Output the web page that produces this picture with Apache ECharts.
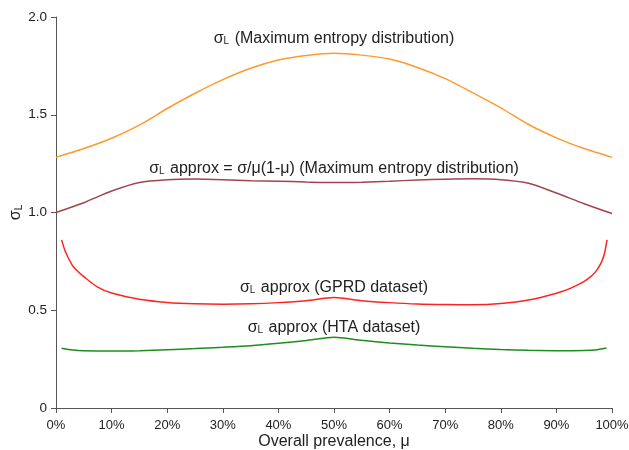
<!DOCTYPE html>
<html>
<head>
<meta charset="utf-8">
<script src="https://cdn.jsdelivr.net/npm/echarts@6/dist/echarts.min.js"></script>
<style>
  html, body { margin: 0; padding: 0; background: #fff; }
  #chart { width: 629px; height: 450px; }
</style>
</head>
<body>
<div id="chart"></div>
<script>
// prevalence (%) -> sigma_L
const maxEntX = [0, 5, 10, 15, 20, 25, 30, 35, 40, 45, 50, 55, 60, 65, 70, 75, 80, 85, 90, 95, 100]
const maxEntY = [1.282, 1.327, 1.38, 1.447, 1.532, 1.61, 1.68, 1.738, 1.78, 1.803, 1.814, 1.805, 1.785, 1.742, 1.685, 1.612, 1.535, 1.45, 1.382, 1.327, 1.282]

const approxY = [1.0, 1.05, 1.11, 1.154, 1.168, 1.171, 1.168, 1.163, 1.16, 1.156, 1.153, 1.155, 1.16, 1.166, 1.17, 1.172, 1.168, 1.15, 1.1, 1.045, 0.995]

const gprdX = [1, 1.5, 2, 3, 4, 5, 7.5, 10, 15, 20, 25, 30, 35, 40, 45, 50, 55, 60, 65, 70, 75, 80, 85, 90, 92.5, 95, 96, 97, 98, 98.6, 99.1]
const gprdY = [0.86, 0.815, 0.78, 0.727, 0.697, 0.672, 0.618, 0.588, 0.556, 0.54, 0.533, 0.531, 0.533, 0.539, 0.549, 0.565, 0.549, 0.539, 0.532, 0.529, 0.528, 0.534, 0.552, 0.587, 0.612, 0.648, 0.668, 0.695, 0.74, 0.785, 0.86]

const htaX = [1, 3, 5, 10, 15, 20, 25, 30, 35, 40, 45, 50, 55, 60, 65, 70, 75, 80, 85, 90, 95, 97, 99]
const htaY = [0.306, 0.297, 0.293, 0.291, 0.293, 0.298, 0.304, 0.311, 0.319, 0.331, 0.345, 0.362, 0.346, 0.333, 0.322, 0.313, 0.305, 0.299, 0.295, 0.293, 0.294, 0.297, 0.307]

const labels = [
  '{s|σ}{sub|L}{s| (Maximum entropy distribution)}',
  '{s|σ}{sub|L}{s| approx = σ/μ(1-μ) (Maximum entropy distribution)}',
  '{s|σ}{sub|L}{s| approx (GPRD dataset)}',
  '{s|σ}{sub|L}{s| approx (HTA dataset)}'
]
const colors = ['#ff9a2e', '#a3434f', '#ff2222', '#1e8c1e']
const labelGaps = [7, 6, 2, 2]

const fontFamily = 'Liberation Sans, Arial, sans-serif'
const textColor = '#222'

const rich = {
  s: { fontSize: 16, color: textColor, fontFamily: fontFamily, lineHeight: 18, verticalAlign: 'bottom' },
  sub: { fontSize: 10, color: textColor, fontFamily: fontFamily, lineHeight: 18, verticalAlign: 'bottom', padding: [0, 1, 0, 0] }
}

function pairs(xs, ys) {
  return xs.map((x, i) => [x, ys[i]])
}

function makeSeries(data, idx) {
  let mid = data.find(d => d[0] == 50)
  return {
    type: 'line',
    data: data,
    smooth: 0.25,
    symbol: 'none',
    lineStyle: { color: colors[idx], width: 1.5 },
    itemStyle: { color: colors[idx] },
    emphasis: { disabled: true },
    markPoint: {
      symbol: 'circle',
      symbolSize: 0,
      silent: true,
      data: [{ coord: mid }],
      label: {
        show: true,
        position: 'top',
        distance: labelGaps[idx],
        formatter: labels[idx],
        rich: rich
      }
    }
  }
}

var myChart = echarts.init(document.getElementById('chart'))

const option = {
  animation: false,
  backgroundColor: '#fff',
  grid: { left: 56, right: 17, top: 17, bottom: 42, outerBoundsMode: 'none' },
  xAxis: {
    type: 'value',
    min: 0,
    max: 100,
    interval: 10,
    name: 'Overall prevalence, μ',
    nameLocation: 'middle',
    nameGap: 26,
    nameMoveOverlap: false,
    nameTextStyle: { fontSize: 16, color: textColor, fontFamily: fontFamily },
    axisLine: { show: true, lineStyle: { color: '#555', width: 1 } },
    axisTick: { show: true, length: 5, lineStyle: { color: '#555' } },
    axisLabel: { formatter: '{value}%', fontSize: 13, color: textColor, fontFamily: fontFamily, margin: 11 },
    splitLine: { show: false }
  },
  yAxis: {
    type: 'value',
    min: 0,
    max: 2,
    interval: 0.5,
    name: '{s|σ}{sub|L}',
    nameLocation: 'middle',
    nameGap: 32,
    nameMoveOverlap: false,
    nameRotate: 90,
    nameTextStyle: {
      rich: {
        s: { fontSize: 16, color: textColor, fontFamily: fontFamily, lineHeight: 18, verticalAlign: 'bottom' },
        sub: { fontSize: 10, color: textColor, fontFamily: fontFamily, lineHeight: 18, verticalAlign: 'bottom' }
      }
    },
    axisLine: { show: true, lineStyle: { color: '#555', width: 1 } },
    axisTick: { show: true, length: 5, lineStyle: { color: '#555' } },
    axisLabel: {
      fontSize: 13.5,
      color: textColor,
      fontFamily: fontFamily,
      margin: 9,
      formatter: (v) => v == 0 ? '0' : v.toFixed(1)
    },
    splitLine: { show: false }
  },
  series: [
    makeSeries(pairs(maxEntX, maxEntY), 0),
    makeSeries(pairs(maxEntX, approxY), 1),
    makeSeries(pairs(gprdX, gprdY), 2),
    makeSeries(pairs(htaX, htaY), 3)
  ]
}

myChart.setOption(option)
</script>
</body>
</html>
